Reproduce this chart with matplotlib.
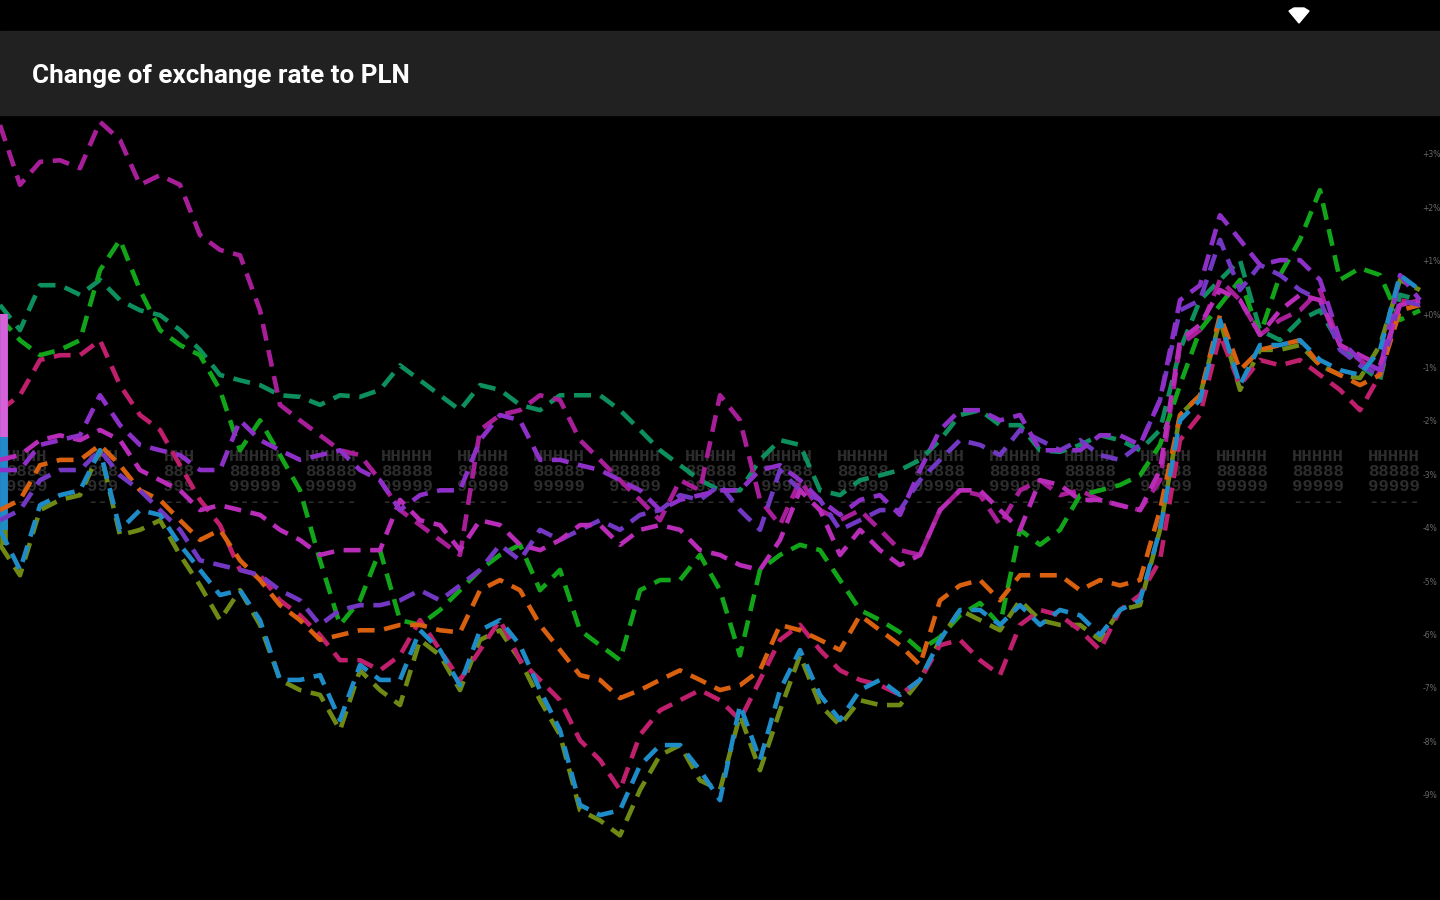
import matplotlib
matplotlib.use("Agg")
import matplotlib.pyplot as plt
from matplotlib.patches import Rectangle, Polygon

# --------------------------------------------------
# Data (change in % per day)
# --------------------------------------------------

days = list(range(72))

green = [-0.07, -0.49, -0.77, -0.67, -0.49, 0.82, 1.39, 0.45, -0.30, -0.58, -0.77, -1.42, -2.55, -1.99, -2.64, -3.30,
         -4.61, -5.82, -5.36, -4.42, -5.73, -5.82, -5.54, -5.17, -4.79, -4.51, -4.32, -5.17, -4.79, -5.92, -6.20, -6.48,
         -5.17, -4.98, -4.98, -4.51, -5.17, -6.39, -4.79, -4.51, -4.32, -4.42, -4.98, -5.54, -5.73, -5.96, -6.29, -6.05,
         -5.64, -5.41, -5.82, -4.04, -4.32, -4.04, -3.39, -3.30, -3.20, -3.02, -2.45, -1.33, -0.30, 0.17, 0.64, -0.39,
         0.73, 1.39, 2.32, 0.64, 0.86, 0.73, -0.11, 0.07]
teal = [0.17, -0.30, 0.54, 0.54, 0.36, 0.64, 0.26, 0.07, -0.02, -0.30, -0.67, -1.14, -1.24, -1.33, -1.52, -1.55,
        -1.70, -1.52, -1.55, -1.42, -0.96, -1.24, -1.52, -1.80, -1.33, -1.42, -1.70, -1.80, -1.52, -1.52, -1.52, -1.80,
        -2.17, -2.55, -2.83, -3.11, -3.30, -3.30, -2.73, -2.36, -2.45, -3.30, -3.39, -3.11, -3.02, -2.92, -2.73, -2.36,
        -1.89, -1.80, -2.08, -2.08, -2.55, -2.58, -2.45, -2.27, -2.36, -2.55, -2.17, -0.67, 0.26, 0.64, 1.01, -0.30,
        -0.49, -0.11, 0.07, -0.58, -0.96, -1.24, 0.36, 0.26]
magenta = [3.54, 2.42, 2.85, 2.88, 2.73, 3.60, 3.26, 2.42, 2.60, 2.42, 1.48, 1.20, 1.10, 0.07, -1.70, -1.99,
           -2.27, -2.55, -2.64, -3.11, -3.67, -3.95, -4.23, -4.51, -2.17, -1.89, -1.80, -1.52, -1.61, -2.36, -2.73, -3.11,
           -3.48, -3.86, -3.11, -3.30, -1.52, -1.99, -3.48, -3.95, -3.11, -3.67, -3.86, -3.67, -4.04, -4.42, -4.51, -3.67,
           -3.30, -3.39, -3.95, -3.30, -3.11, -3.39, -3.30, -3.48, -3.58, -3.67, -3.11, -0.58, -0.30, 0.64, 0.26, -0.39,
           -0.11, 0.07, 0.45, -0.58, -0.86, -1.14, 0.17, 0.26]
purple = [-2.73, -2.64, -2.36, -2.27, -2.36, -2.17, -2.36, -2.92, -3.11, -3.30, -3.67, -3.58, -3.67, -3.76, -4.04, -4.23,
          -4.51, -4.42, -4.42, -4.42, -3.48, -3.86, -3.95, -4.42, -3.86, -3.95, -4.32, -4.42, -4.23, -3.95, -3.95, -4.32,
          -4.04, -3.95, -4.04, -4.42, -4.51, -4.70, -4.79, -4.23, -3.30, -3.67, -4.51, -4.04, -4.42, -4.70, -4.51, -3.67,
          -3.30, -3.30, -3.67, -4.04, -3.11, -3.20, -3.48, -3.48, -3.58, -3.67, -2.92, -0.49, -0.20, 0.45, 0.26, -0.39,
          0.07, 0.36, 0.26, -0.58, -0.77, -0.96, 0.17, 0.26]
violet = [-2.92, -2.92, -2.45, -2.36, -2.27, -1.52, -2.08, -2.45, -2.55, -2.64, -2.92, -2.92, -1.99, -2.36, -2.55, -2.73,
          -2.64, -2.55, -2.92, -3.11, -3.67, -3.39, -3.30, -3.30, -2.36, -1.89, -1.99, -2.73, -2.73, -2.83, -2.92, -3.11,
          -3.30, -3.67, -3.48, -3.39, -3.30, -3.30, -2.92, -2.83, -3.11, -3.48, -3.76, -3.48, -3.39, -3.76, -2.92, -2.17,
          -1.80, -1.80, -1.99, -1.89, -2.55, -2.55, -2.55, -2.27, -2.27, -2.45, -1.61, 0.26, 0.54, 1.85, 1.39, 0.92,
          1.01, 1.01, 0.64, -0.49, -0.86, -1.05, 0.73, 0.26]
indigo = [-3.86, -3.67, -3.11, -2.92, -2.92, -2.55, -3.02, -3.30, -3.67, -4.04, -4.61, -4.70, -4.79, -4.89, -5.17, -5.36,
          -5.82, -5.54, -5.45, -5.45, -5.36, -5.17, -5.36, -5.08, -4.79, -4.32, -4.61, -4.04, -4.23, -4.04, -3.86, -4.04,
          -3.76, -3.67, -3.39, -3.48, -3.20, -3.67, -4.04, -2.92, -3.30, -3.48, -4.04, -3.86, -3.67, -3.67, -3.11, -2.73,
          -2.36, -2.45, -2.64, -2.17, -2.36, -2.55, -2.36, -2.64, -2.73, -2.45, -1.61, 0.07, 0.26, 1.39, 0.45, 0.92,
          0.73, 0.45, 0.26, -0.67, -0.96, -1.14, 0.26, 0.17]
crimson = [-1.80, -1.52, -0.86, -0.77, -0.77, -0.49, -1.33, -1.89, -2.17, -2.83, -3.48, -3.95, -4.79, -4.89, -5.36, -5.64,
           -6.01, -6.48, -6.48, -6.67, -6.39, -5.73, -6.29, -6.85, -6.29, -5.73, -6.48, -6.85, -7.23, -7.98, -8.35, -8.91,
           -7.88, -7.42, -7.23, -7.04, -7.23, -7.60, -6.85, -6.10, -5.82, -6.29, -6.67, -6.85, -6.95, -7.13, -6.85, -6.20,
           -6.10, -6.48, -6.76, -5.82, -5.54, -5.64, -5.92, -6.29, -5.54, -5.26, -4.61, -2.36, -1.89, -0.39, -1.33, -0.86,
           -0.96, -0.86, -1.14, -1.42, -1.80, -1.14, 0.26, 0.17]
orange = [-3.67, -3.48, -2.83, -2.73, -2.73, -2.45, -2.83, -3.30, -3.48, -3.86, -4.23, -4.04, -4.61, -4.98, -5.45, -5.73,
          -6.10, -6.01, -5.92, -5.92, -5.82, -5.82, -5.92, -5.96, -5.17, -4.98, -5.17, -5.82, -6.29, -6.76, -6.85, -7.19,
          -7.04, -6.85, -6.67, -6.85, -7.04, -6.95, -6.67, -5.82, -5.92, -6.10, -6.29, -5.64, -5.92, -6.20, -6.57, -5.36,
          -5.08, -4.98, -5.36, -4.89, -4.89, -4.89, -5.17, -4.98, -5.08, -4.98, -3.67, -1.89, -1.52, -0.02, -1.05, -0.67,
          -0.58, -0.49, -0.96, -1.14, -1.33, -1.14, 0.07, 0.17]
olive = [-4.32, -4.89, -3.67, -3.48, -3.39, -2.55, -4.14, -4.04, -3.86, -4.51, -5.08, -5.73, -5.17, -5.82, -6.85, -7.04,
         -7.13, -7.79, -6.67, -7.04, -7.32, -6.10, -6.39, -7.04, -6.10, -5.92, -6.48, -7.23, -7.88, -9.29, -9.48, -9.76,
         -8.91, -8.26, -8.07, -8.73, -8.91, -7.51, -8.54, -7.42, -6.39, -7.32, -7.70, -7.23, -7.32, -7.32, -6.85, -6.10,
         -5.54, -5.73, -5.92, -5.36, -5.73, -5.82, -5.82, -6.10, -5.54, -5.45, -4.04, -1.89, -1.52, -0.11, -1.42, -0.67,
         -0.67, -0.58, -0.96, -1.14, -1.20, -0.58, 0.64, 0.45]
blue = [-4.04, -4.79, -3.58, -3.39, -3.30, -2.55, -4.04, -3.67, -3.76, -4.32, -4.79, -5.26, -5.17, -5.73, -6.85, -6.85,
        -6.76, -7.60, -6.57, -6.85, -6.85, -5.92, -6.29, -6.95, -5.92, -5.73, -6.20, -7.04, -7.79, -9.19, -9.38, -9.29,
        -8.45, -8.07, -8.07, -8.54, -9.10, -7.32, -8.35, -7.04, -6.29, -7.13, -7.60, -7.04, -6.85, -7.13, -6.85, -6.10,
        -5.54, -5.54, -5.82, -5.45, -5.82, -5.54, -5.64, -6.01, -5.54, -5.36, -4.04, -1.99, -1.61, -0.11, -1.33, -0.58,
        -0.58, -0.49, -0.86, -1.05, -1.14, -0.67, 0.73, 0.45]

# drawn in this order, so the last ones end up on top
series = [
    (teal, "#0d8f5e"),
    (magenta, "#a81e98"),
    (green, "#12a51a"),
    (olive, "#6f8a14"),
    (crimson, "#bf1f6c"),
    (orange, "#d9600f"),
    (indigo, "#7238c4"),
    (purple, "#b82cb8"),
    (violet, "#8e30c8"),
    (blue, "#1e8cc8"),
]

y_ticks = [3, 2, 1, 0, -1, -2, -3, -4, -5, -6, -7, -8, -9]
y_labels = ["+3%", "+2%", "+1%", "+0%", "-1%", "-2%", "-3%", "-4%", "-5%", "-6%", "-7%", "-8%", "-9%"]

date_days = [1.35, 5.15, 8.95, 12.75, 16.55, 20.35, 24.15, 27.95, 31.75, 35.55, 39.35, 43.15, 46.95, 50.75, 54.5,
             58.3, 62.1, 65.9, 69.7]
date_labels = ["HHHH\n8888\n9999\n----", "HHH\n888\n999\n---", "HHH\n888\n999\n---"] + ["HHHHH\n88888\n99999\n-----"] * 16

# --------------------------------------------------
# Figure
# --------------------------------------------------

fig = plt.figure(figsize=(14.4, 9), dpi=100, facecolor="black")
ax = fig.add_axes([0, 0, 1, 1], facecolor="black")

ax.set_xlim(0, 72)
ax.set_ylim(-10.97, 5.88)

for day, label in zip(date_days, date_labels):
    ax.text(day, -3.09, label, color="#2d2d2d", fontsize=12.5, family="Liberation Mono",
            fontweight="bold", ha="center", va="center", linespacing=1.02, zorder=1)

for values, color in series:
    if values[0] < 0:
        ax.plot([0.2, 0.2], [0, values[0]], color=color, linewidth=5.5, solid_capstyle="butt", zorder=2)
    ax.plot(days, values, color=color, linewidth=3.3, dashes=(3.7, 2.1), zorder=3)

# pink start bar on top of the others
ax.plot([0.2, 0.2], [0, -2.3], color="#d860d8", linewidth=5.5, solid_capstyle="butt", zorder=4)

ax.yaxis.tick_right()
ax.set_yticks(y_ticks)
ax.set_yticklabels(y_labels)
ax.tick_params(axis="y", length=0, pad=-12.5, labelsize=5.5, labelcolor="#6a6a6a")
ax.set_xticks([])
for spine in ax.spines.values():
    spine.set_visible(False)

# --------------------------------------------------
# App chrome
# --------------------------------------------------

fig.add_artist(Rectangle((0, 1 - 31 / 900), 1, 31 / 900, transform=fig.transFigure, color="black", zorder=5))
fig.add_artist(Rectangle((0, 1 - 115 / 900), 1, 84 / 900, transform=fig.transFigure, color="#212121", zorder=5))
fig.add_artist(Polygon([(1289 / 1440, 1 - 11 / 900), (1294 / 1440, 1 - 8 / 900), (1304 / 1440, 1 - 8 / 900),
                        (1309 / 1440, 1 - 11 / 900), (1299 / 1440, 1 - 23 / 900)],
                       transform=fig.transFigure, color="white", zorder=6))

fig.text(32 / 1440, 1 - 76 / 900, "Change of exchange rate to PLN", color="white", fontsize=18.7,
         family="Roboto", fontweight="bold", ha="left", va="center", zorder=7)

fig.savefig("out.png", dpi=100, facecolor="black")
